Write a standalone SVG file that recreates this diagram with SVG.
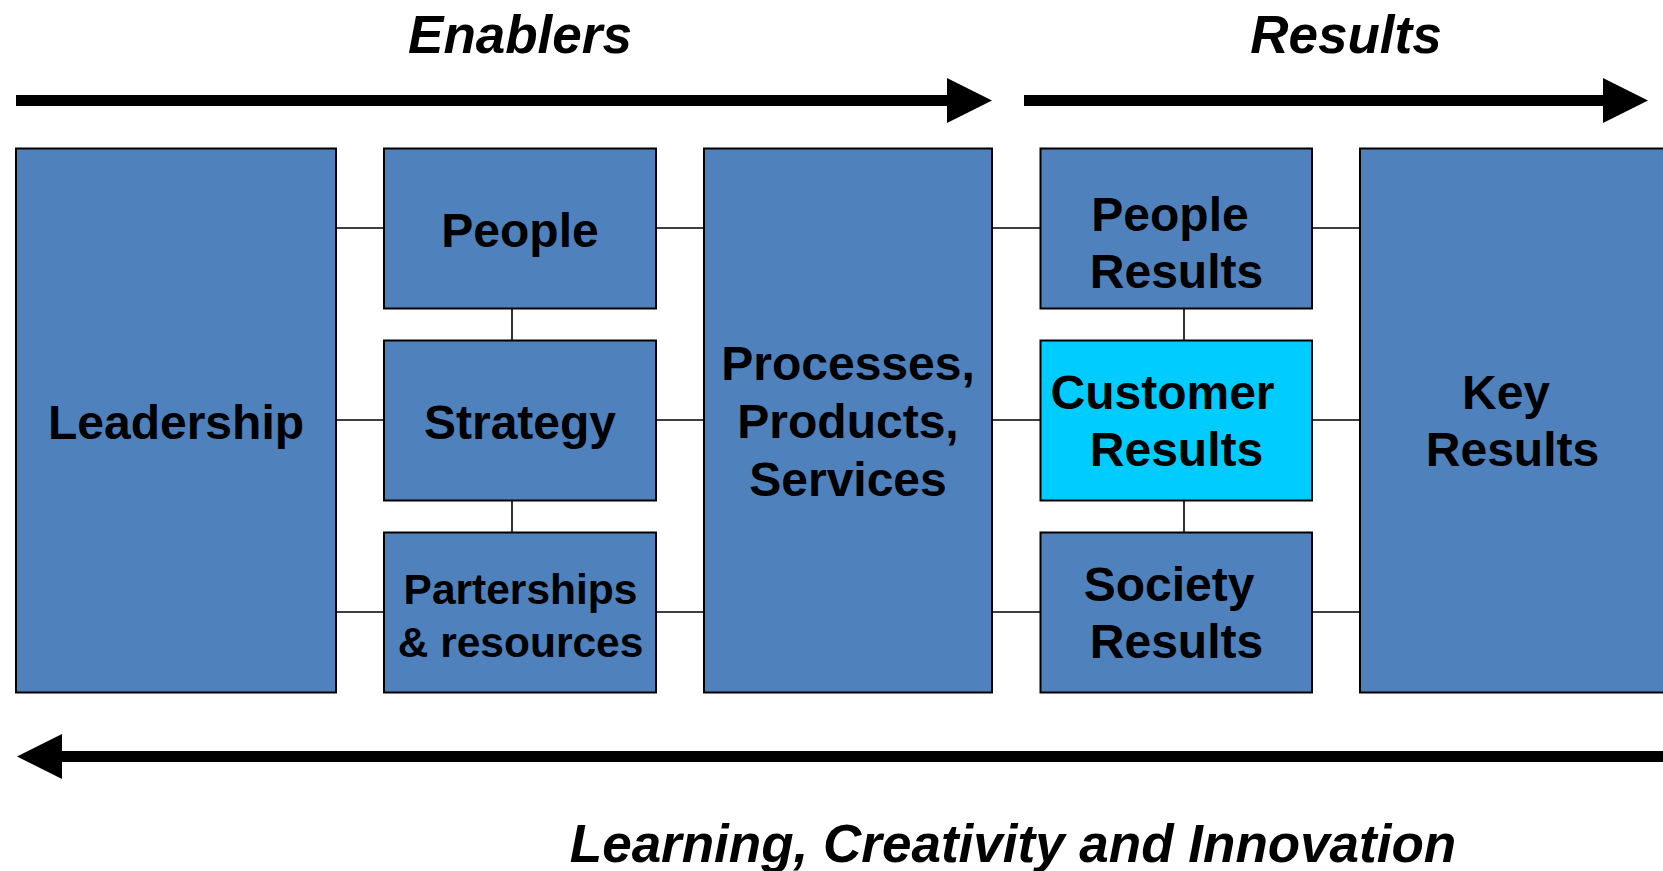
<svg xmlns="http://www.w3.org/2000/svg" width="1663" height="871" viewBox="0 0 1663 871">
  <style>
    .box { fill: #4F81BD; stroke: #000; stroke-width: 2; }
    .box.hi { fill: #00CCFF; }
    .lbl { font-family: "Liberation Sans", Arial, sans-serif; font-weight: bold; font-size: 48px; fill: #000; text-anchor: middle; }
    .lbl.sm { font-size: 42.5px; }
    .head { font-family: "Liberation Sans", Arial, sans-serif; font-weight: bold; font-style: italic; font-size: 53px; fill: #000; text-anchor: middle; }
    .link { stroke: #000; stroke-width: 1.6; fill: none; }
    .flow { stroke: #000; stroke-width: 11; fill: none; marker-end: url(#tip); }
  </style>
  <defs>
    <marker id="tip" markerUnits="userSpaceOnUse" markerWidth="46" markerHeight="46" refX="0" refY="22.5" orient="auto" overflow="visible">
      <path d="M0,0 L45,22.5 L0,45 Z" fill="#000"/>
    </marker>
  </defs>

  <rect width="1663" height="871" fill="#fff"/>

  <!-- headings -->
  <text class="head" x="520" y="53">Enablers</text>
  <text class="head" x="1346" y="53">Results</text>
  <text class="head" x="1013" y="862" font-size="54">Learning, Creativity and Innovation</text>

  <!-- flow arrows -->
  <g id="flow-arrows">
    <path class="flow" d="M16,100.5 H947"/>
    <path class="flow" d="M1024,100.5 H1603"/>
    <path class="flow" d="M1663,756.5 H62"/>
  </g>

  <!-- connectors between boxes -->
  <g id="connectors">
    <path class="link" d="M336,228 H384 M336,420 H384 M336,612 H384"/>
    <path class="link" d="M656,228 H704 M656,420 H704 M656,612 H704"/>
    <path class="link" d="M992,228 H1040.5 M992,420 H1040.5 M992,612 H1040.5"/>
    <path class="link" d="M1312,228 H1360 M1312,420 H1360 M1312,612 H1360"/>
    <path class="link" d="M512,308.5 V340.5 M512,500.5 V532.5"/>
    <path class="link" d="M1184,308.5 V340.5 M1184,500.5 V532.5"/>
  </g>

  <g id="leadership">
    <rect class="box" x="16" y="148.5" width="320" height="544"/>
    <text class="lbl" x="176" y="439">Leadership</text>
  </g>

  <g id="people">
    <rect class="box" x="384" y="148.5" width="272" height="160"/>
    <text class="lbl" x="520" y="247">People</text>
  </g>

  <g id="strategy">
    <rect class="box" x="384" y="340.5" width="272" height="160"/>
    <text class="lbl" x="520" y="439">Strategy</text>
  </g>

  <g id="partnerships">
    <rect class="box" x="384" y="532.5" width="272" height="160"/>
    <text class="lbl sm" x="520.5" y="604">Parterships</text>
    <text class="lbl sm" x="520.5" y="657">&amp; resources</text>
  </g>

  <g id="processes">
    <rect class="box" x="704" y="148.5" width="288" height="544"/>
    <text class="lbl" x="848" y="380">Processes,</text>
    <text class="lbl" x="848" y="437.5">Products,</text>
    <text class="lbl" x="848" y="495.5">Services</text>
  </g>

  <g id="people-results">
    <rect class="box" x="1040.5" y="148.5" width="271.5" height="160"/>
    <text class="lbl" x="1170" y="231">People</text>
    <text class="lbl" x="1176.5" y="288">Results</text>
  </g>

  <g id="customer-results">
    <rect class="box hi" x="1040.5" y="340.5" width="271.5" height="160"/>
    <text class="lbl" x="1162.5" y="408.5">Customer</text>
    <text class="lbl" x="1176.5" y="465.5">Results</text>
  </g>

  <g id="society-results">
    <rect class="box" x="1040.5" y="532.5" width="271.5" height="160"/>
    <text class="lbl" x="1169" y="600.5">Society</text>
    <text class="lbl" x="1176.5" y="657.5">Results</text>
  </g>

  <g id="key-results">
    <rect class="box" x="1360" y="148.5" width="320" height="544"/>
    <text class="lbl" x="1506" y="408.5">Key</text>
    <text class="lbl" x="1512.5" y="465.5">Results</text>
  </g>
</svg>
